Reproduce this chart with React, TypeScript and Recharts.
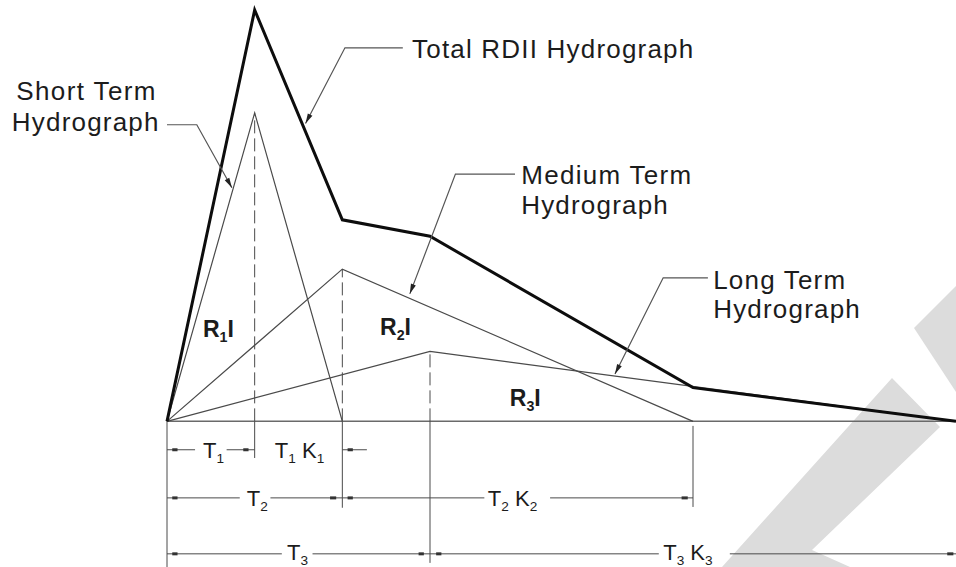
import React from 'react';
import { LineChart, Line, XAxis, YAxis, ReferenceLine, ReferenceDot } from 'recharts';

// time base T1, T2, T3 and recession constants K1, K2, K3
const T = [1, 2, 3];
const K = [1, 2, 2];

// hydrograph ordinates
const shortTerm = [
    { t: 0, q: 0 },
    { t: 1, q: 75 },
    { t: 2, q: 0 },
];
const mediumTerm = [
    { t: 0, q: 0 },
    { t: 2, q: 37 },
    { t: 6, q: 0 },
];
const longTerm = [
    { t: 0, q: 0 },
    { t: 3, q: 17 },
    { t: 9, q: 0 },
];
const totalRdii = [
    { t: 0, q: 0 },
    { t: 1, q: 100 },
    { t: 2, q: 49 },
    { t: 3, q: 45 },
    { t: 6, q: 8.2 },
    { t: 9, q: 0 },
];

// leader lines: label end -> elbow -> arrow tip
const leaderTotal = [{ t: 2.69, q: 90.8 }, { t: 2.03, q: 90.8 }, { t: 1.58, q: 72.4 }];
const leaderShort = [{ t: 0, q: 72.1 }, { t: 0.34, q: 72.1 }, { t: 0.74, q: 56.8 }];
const leaderMedium = [{ t: 3.97, q: 60.1 }, { t: 3.29, q: 60.1 }, { t: 2.77, q: 31.0 }];
const leaderLong = [{ t: 6.17, q: 34.9 }, { t: 5.66, q: 34.9 }, { t: 5.11, q: 11.5 }];

const W = 956;
const H = 567;
const Y_MIN = -35.4;
const INK = '#1c1c1c';
const THIN = '#4a4a4a';

const ROW1 = -6.9;
const ROW2 = -18.6;
const ROW3 = -32.2;

function arrowDot() {
    let prev: { x: number; y: number } | null = null;
    return (p: any) => {
        const { cx, cy, index } = p;
        let node: React.ReactElement = <g key={`d${index}`} />;
        if (index === 2 && prev) {
            const a = Math.atan2(cy - prev.y, cx - prev.x);
            const L = 10, w = 2.6;
            const bx = cx - L * Math.cos(a), by = cy - L * Math.sin(a);
            const nx = -Math.sin(a) * w, ny = Math.cos(a) * w;
            node = (
                <polygon
                    key={`d${index}`}
                    points={`${cx},${cy} ${bx + nx},${by + ny} ${bx - nx},${by - ny}`}
                    fill="#222"
                />
            );
        }
        prev = { x: cx, y: cy };
        return node;
    };
}

// text with optional subscripts: parts are [text, isSub]
const textShape = (parts: [string, boolean][], size: number, bold = false, spacing = 0) => (p: any) => (
    <text
        x={p.cx}
        y={p.cy}
        fontFamily="'Liberation Sans', Arial, sans-serif"
        fontSize={size}
        fontWeight={bold ? 700 : 400}
        letterSpacing={spacing}
        fill={INK}
    >
        {parts.map(([s, sub], i) => {
            const shift = size * 0.22;
            let dy = i === 0 ? size * 0.36 : sub ? shift : -shift;
            if (i === 0 && sub) dy += shift;
            return (
                <tspan key={i} fontSize={sub ? size * 0.62 : size} dy={dy}>
                    {s}
                </tspan>
            );
        })}
    </text>
);

const seg = (x1: number, y1: number, x2: number, y2: number, key: string, props: any = {}) => (
    <ReferenceLine
        key={key}
        segment={[{ x: x1, y: y1 }, { x: x2, y: y2 }]}
        stroke={THIN}
        strokeWidth={1}
        ifOverflow="visible"
        {...props}
    />
);

const tick = (x1: number, x2: number, y: number, key: string) => seg(x1, y, x2, y, key, { strokeWidth: 3, stroke: '#333' });

const label = (x: number, y: number, parts: [string, boolean][], size: number, key: string, bold = false, spacing = 0) => (
    <ReferenceDot
        key={key}
        x={x}
        y={y}
        r={0}
        ifOverflow="visible"
        shape={textShape(parts, size, bold, spacing)}
    />
);

const Watermark = () => (
    <svg width={W} height={H} style={{ position: 'absolute', left: 0, top: 0 }}>
        <polygon points="722,567 892,378 940,427 812,550 850,567" fill="#dcdcdc" />
        <polygon points="914,328 956,286 956,392" fill="#dcdcdc" />
    </svg>
);

const App: React.FC = () => {
    const [t1, t2, t3] = T;
    const [k1, k2, k3] = K;
    const e1 = t1 + t1 * k1;
    const e2 = t2 + t2 * k2;
    const e3 = t3 + t3 * k3;

    return (
        <div style={{ position: 'absolute', left: 0, top: 0, width: W, height: H, background: '#fff' }}>
            <Watermark />
            <div style={{ position: 'absolute', left: 0, top: 0 }}>
                <LineChart width={W} height={H} margin={{ top: 10, right: 0, bottom: 0, left: 167 }}>
                    <XAxis type="number" dataKey="t" domain={[0, e3]} hide />
                    <YAxis type="number" dataKey="q" domain={[Y_MIN, 100]} hide />

                    <ReferenceLine y={0} stroke="#6a6a6a" strokeWidth={1.5} />

                    {/* dashed peak verticals */}
                    {seg(t1, 0, t1, 75, 'v1', { strokeDasharray: '13 5' })}
                    {seg(t2, 0, t2, 37, 'v2', { strokeDasharray: '13 5' })}
                    {seg(t3, 0, t3, 17, 'v3', { strokeDasharray: '13 5' })}

                    {/* extension lines below baseline */}
                    {seg(0, 0, 0, Y_MIN, 'x0')}
                    {seg(t1, 0, t1, -8.9, 'x1')}
                    {seg(t2, 0, t2, -21, 'x2')}
                    {seg(t3, 0, t3, -34.4, 'x3')}
                    {seg(e2, -1.1, e2, -20.8, 'x4')}

                    {/* row 1: T1, T1K1 */}
                    {seg(0, ROW1, 0.32, ROW1, 'r1a')}
                    {seg(0.68, ROW1, t1, ROW1, 'r1b')}
                    {tick(0.06, 0.12, ROW1, 'r1t1')}
                    {tick(0.87, 0.93, ROW1, 'r1t2')}
                    {seg(e1, ROW1, e1 + 0.28, ROW1, 'r1c')}
                    {tick(e1 + 0.06, e1 + 0.12, ROW1, 'r1t3')}

                    {/* row 2: T2, T2K2 */}
                    {seg(0, ROW2, 0.83, ROW2, 'r2a')}
                    {seg(1.18, ROW2, t2, ROW2, 'r2b')}
                    {seg(t2, ROW2, 3.62, ROW2, 'r2c')}
                    {seg(4.37, ROW2, e2, ROW2, 'r2d')}
                    {tick(0.06, 0.12, ROW2, 'r2t1')}
                    {tick(1.86, 1.93, ROW2, 'r2t2')}
                    {tick(2.06, 2.12, ROW2, 'r2t3')}
                    {tick(5.87, 5.94, ROW2, 'r2t4')}

                    {/* row 3: T3, T3K3 */}
                    {seg(0, ROW3, 1.31, ROW3, 'r3a')}
                    {seg(1.66, ROW3, t3, ROW3, 'r3b')}
                    {seg(t3, ROW3, 5.61, ROW3, 'r3c')}
                    {seg(6.42, ROW3, e3, ROW3, 'r3d')}
                    {tick(0.06, 0.12, ROW3, 'r3t1')}
                    {tick(2.87, 2.93, ROW3, 'r3t2')}
                    {tick(3.07, 3.13, ROW3, 'r3t3')}
                    {tick(8.9, 8.97, ROW3, 'r3t4')}

                    {/* component hydrographs */}
                    <Line data={longTerm} dataKey="q" type="linear" stroke={THIN} strokeWidth={1.2} dot={false} activeDot={false} isAnimationActive={false} />
                    <Line data={mediumTerm} dataKey="q" type="linear" stroke={THIN} strokeWidth={1.2} dot={false} activeDot={false} isAnimationActive={false} />
                    <Line data={shortTerm} dataKey="q" type="linear" stroke={THIN} strokeWidth={1.2} dot={false} activeDot={false} isAnimationActive={false} />
                    <Line data={totalRdii} dataKey="q" type="linear" stroke="#0d0d0d" strokeWidth={3} strokeLinejoin="miter" dot={false} activeDot={false} isAnimationActive={false} />

                    {/* leaders */}
                    <Line data={leaderTotal} dataKey="q" type="linear" stroke="#555" strokeWidth={1.2} dot={arrowDot()} activeDot={false} isAnimationActive={false} />
                    <Line data={leaderShort} dataKey="q" type="linear" stroke="#555" strokeWidth={1.2} dot={arrowDot()} activeDot={false} isAnimationActive={false} />
                    <Line data={leaderMedium} dataKey="q" type="linear" stroke="#555" strokeWidth={1.2} dot={arrowDot()} activeDot={false} isAnimationActive={false} />
                    <Line data={leaderLong} dataKey="q" type="linear" stroke="#555" strokeWidth={1.2} dot={arrowDot()} activeDot={false} isAnimationActive={false} />

                    {/* hydrograph names */}
                    {label(2.795, 90.5, [['Total RDII Hydrograph', false]], 26, 'n0', false, 1.2)}
                    {label(-1.72, 80.3, [['Short Term', false]], 26, 'n1', false, 1.4)}
                    {label(-1.77, 72.8, [['Hydrograph', false]], 26, 'n2', false, 1.2)}
                    {label(4.04, 59.9, [['Medium Term', false]], 26, 'n3', false, 1.3)}
                    {label(4.04, 52.6, [['Hydrograph', false]], 26, 'n4', false, 1.2)}
                    {label(6.23, 34.4, [['Long Term', false]], 26, 'n5', false, 1.2)}
                    {label(6.23, 27.3, [['Hydrograph', false]], 26, 'n6', false, 1.2)}

                    {/* volume labels */}
                    {label(0.41, 22.5, [['R', false], ['1', true], ['I', false]], 23, 'rv1', true)}
                    {label(2.43, 23, [['R', false], ['2', true], ['I', false]], 23, 'rv2', true)}
                    {label(3.91, 5.7, [['R', false], ['3', true], ['I', false]], 23, 'rv3', true)}

                    {/* dimension labels */}
                    {label(0.41, ROW1, [['T', false], ['1', true]], 22, 'd1')}
                    {label(1.23, ROW1, [['T', false], ['1', true], [' K', false], ['1', true]], 22, 'd2')}
                    {label(0.91, ROW2, [['T', false], ['2', true]], 22, 'd3')}
                    {label(3.66, ROW2, [['T', false], ['2', true], [' K', false], ['2', true]], 22, 'd4')}
                    {label(1.37, ROW3 + 0.5, [['T', false], ['3', true]], 22, 'd5')}
                    {label(5.66, ROW3 + 0.5, [['T', false], ['3', true], [' K', false], ['3', true]], 22, 'd6')}
                </LineChart>
            </div>
        </div>
    );
};

export default App;
